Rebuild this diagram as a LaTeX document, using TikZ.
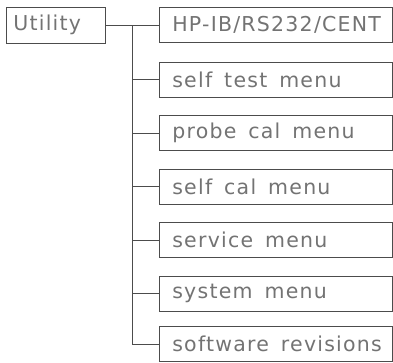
\documentclass[tikz,border=0pt]{standalone}
\usepackage{fontspec}
\setmainfont{DejaVu Sans}[LetterSpace=6]
\exhyphenpenalty=10000
\hbadness=10000
\hfuzz=50pt
\begin{document}
\begin{tikzpicture}[x=1pt,y=-1pt,
  frame/.style={draw=black!70, line width=0.7pt},
  menubox/.style={frame, anchor=west, minimum width=233pt, minimum height=35pt,
    inner xsep=13pt, text width=207pt, align=left, text=black!55,
    font=\fontsize{20.5}{22}\selectfont,
    execute at begin node={\spaceskip=12pt\relax}},
  rootbox/.style={frame, anchor=west, minimum width=99pt, minimum height=36pt,
    inner xsep=7pt, text width=85pt, align=left, text=black!55,
    font=\fontsize{20.5}{22}\selectfont},
  link/.style={draw=black!70, line width=0.7pt}]
\useasboundingbox (0,0) rectangle (393,362);
\node[rootbox] (u) at (6,25) {Utility};
\node[menubox] (b1) at (159,25) {\mbox{HP-IB/RS232/CENT}};
\node[menubox] (b2) at (159,79.5) {self test menu};
\node[menubox] (b3) at (159,133) {probe cal menu};
\node[menubox] (b4) at (159,186.5) {self cal menu};
\node[menubox] (b5) at (159,240) {service menu};
\node[menubox] (b6) at (159,293.5) {system menu};
\node[menubox] (b7) at (159,344) {\mbox{software revisions}};
\coordinate (t) at (132,25);
\draw[link] (u.east) -- (b1.west);
\draw[link] (t) |- (b7.west);
\foreach \b in {b2,b3,b4,b5,b6}{
  \draw[link] (t |- \b.west) -- (\b.west);
}
\end{tikzpicture}
\end{document}
